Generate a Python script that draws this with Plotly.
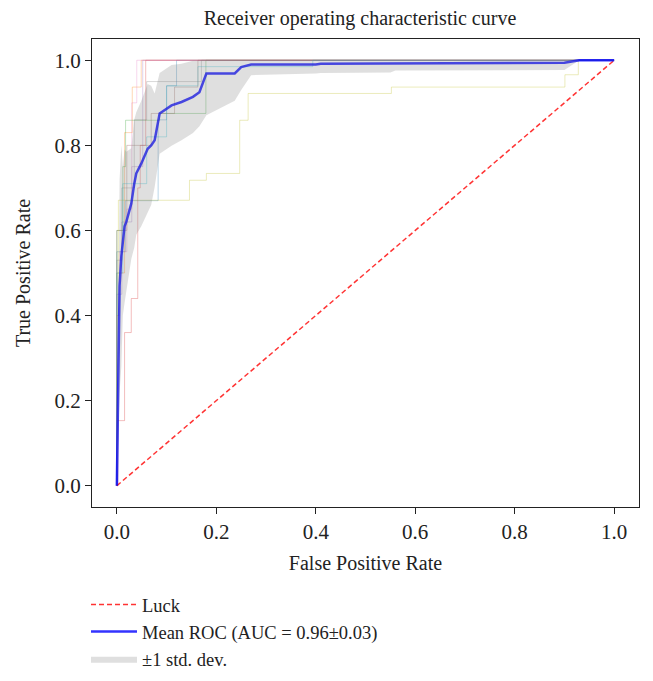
import plotly.graph_objects as go
import numpy as np

# ---------------- data ----------------
mean_fpr = [0, 0.003, 0.0055, 0.009, 0.012, 0.0155, 0.019, 0.029, 0.035, 0.039,
            0.049, 0.062, 0.069, 0.076, 0.086, 0.11, 0.13, 0.153, 0.166, 0.18,
            0.237, 0.25, 0.27, 0.40, 0.41, 0.55, 0.56, 0.90, 0.93, 1.0]
mean_tpr = [0, 0.28, 0.47, 0.54, 0.575, 0.61, 0.62, 0.663, 0.71, 0.734,
            0.757, 0.792, 0.80, 0.812, 0.875, 0.894, 0.902, 0.914, 0.925, 0.969,
            0.969, 0.984, 0.99, 0.99, 0.992, 0.993, 0.993, 0.994, 1.0, 1.0]
std_tpr = [0, 0.15, 0.25, 0.26, 0.175, 0.18, 0.165, 0.13, 0.15, 0.144,
           0.147, 0.152, 0.14, 0.11, 0.095, 0.095, 0.09, 0.085, 0.08, 0.098,
           0.064, 0.054, 0.025, 0.021, 0.022, 0.022, 0.017, 0.017, 0, 0]

fold_colors = ["#1f77b4", "#ff7f0e", "#2ca02c", "#d62728", "#9467bd",
               "#8c564b", "#e377c2", "#7f7f7f", "#bcbd22", "#17becf"]

fold1_fpr = [0, 0, 0.017, 0.017, 0.083, 0.083, 0.1, 0.1, 0.12, 0.12, 1]
fold1_tpr = [0, 0.55, 0.55, 0.67, 0.67, 0.86, 0.86, 0.94, 0.94, 1, 1]
fold2_fpr = [0, 0, 0.0155, 0.0155, 0.031, 0.031, 0.049, 0.049, 1]
fold2_tpr = [0, 0.5, 0.5, 0.83, 0.83, 0.937, 0.937, 1, 1]
fold3_fpr = [0, 0, 0.012, 0.012, 0.0175, 0.0175, 0.086, 0.086, 0.179, 0.179, 1]
fold3_tpr = [0, 0.6, 0.6, 0.75, 0.75, 0.859, 0.859, 0.875, 0.875, 1, 1]
fold4_fpr = [0, 0.002, 0.002, 0.0155, 0.0155, 0.029, 0.029, 0.042, 0.042, 0.047, 0.047, 0.058, 0.058, 1]
fold4_tpr = [0, 0, 0.153, 0.153, 0.36, 0.36, 0.44, 0.44, 0.70, 0.70, 0.80, 0.80, 1, 1]
fold5_fpr = [0, 0, 0.01, 0.01, 0.03, 0.03, 0.052, 0.052, 1]
fold5_tpr = [0, 0.45, 0.45, 0.62, 0.62, 0.75, 0.75, 1, 1]
fold6_fpr = [0, 0, 0.02, 0.02, 0.069, 0.069, 0.116, 0.116, 0.163, 0.163, 1]
fold6_tpr = [0, 0.6, 0.6, 0.8, 0.8, 0.875, 0.875, 0.937, 0.937, 1, 1]
fold7_fpr = [0, 0, 0.005, 0.005, 0.02, 0.02, 0.03, 0.03, 0.04, 0.04, 1]
fold7_tpr = [0, 0.4, 0.4, 0.55, 0.55, 0.65, 0.65, 0.9, 0.9, 1, 1]
fold8_fpr = [0, 0, 0.01, 0.01, 0.035, 0.035, 0.06, 0.06, 0.17, 0.17, 1]
fold8_tpr = [0, 0.53, 0.53, 0.7, 0.7, 0.86, 0.86, 0.95, 0.95, 1, 1]
fold9_fpr = [0, 0, 0.003, 0.003, 0.146, 0.146, 0.18, 0.18, 0.247, 0.247, 0.264, 0.264,
             0.552, 0.552, 0.901, 0.901, 0.928, 0.928, 1]
fold9_tpr = [0, 0.4, 0.4, 0.671, 0.671, 0.718, 0.718, 0.734, 0.734, 0.859, 0.859, 0.922,
             0.922, 0.937, 0.937, 0.966, 0.966, 1, 1]
fold10_fpr = [0, 0, 0.012, 0.012, 0.06, 0.06, 0.1, 0.1, 0.163, 0.163, 0.394, 0.394, 1]
fold10_tpr = [0, 0.5, 0.5, 0.71, 0.71, 0.82, 0.82, 0.94, 0.94, 0.985, 0.985, 1, 1]

folds_fpr = [fold1_fpr, fold2_fpr, fold3_fpr, fold4_fpr, fold5_fpr,
             fold6_fpr, fold7_fpr, fold8_fpr, fold9_fpr, fold10_fpr]
folds_tpr = [fold1_tpr, fold2_tpr, fold3_tpr, fold4_tpr, fold5_tpr,
             fold6_tpr, fold7_tpr, fold8_tpr, fold9_tpr, fold10_tpr]

luck_x = [0, 1]
luck_y = [0, 1]

x_ticks = [0.0, 0.2, 0.4, 0.6, 0.8, 1.0]
y_ticks = [0.0, 0.2, 0.4, 0.6, 0.8, 1.0]

# ---------------- figure ----------------
def hex_rgba(h, a):
    h = h.lstrip("#")
    return "rgba(%d,%d,%d,%.2f)" % (int(h[0:2], 16), int(h[2:4], 16), int(h[4:6], 16), a)

FONT = "Liberation Serif, Times New Roman, serif"
fig = go.Figure()

for fx, fy, c in zip(folds_fpr, folds_tpr, fold_colors):
    fig.add_trace(go.Scatter(x=fx, y=fy, mode="lines",
                             line=dict(color=hex_rgba(c, 0.3), width=1),
                             showlegend=False, hoverinfo="skip"))

fig.add_trace(go.Scatter(x=luck_x, y=luck_y, mode="lines", name="Luck",
                         line=dict(color="rgba(255,0,0,0.8)", width=1.5, dash="5px,3px")))

fig.add_trace(go.Scatter(x=mean_fpr, y=mean_tpr, mode="lines",
                         name="Mean ROC (AUC = 0.96±0.03)",
                         line=dict(color="rgba(0,0,255,0.8)", width=2.5)))

m = np.array(mean_tpr)
s = np.array(std_tpr)
upper = np.minimum(m + s, 1)
lower = np.maximum(m - s, 0)

fig.add_trace(go.Scatter(x=mean_fpr, y=lower, mode="lines",
                         line=dict(width=0, color="rgba(128,128,128,0)"),
                         showlegend=False, hoverinfo="skip"))
fig.add_trace(go.Scatter(x=mean_fpr, y=upper, mode="lines", fill="tonexty",
                         fillcolor="rgba(128,128,128,0.25)",
                         line=dict(width=0, color="rgba(128,128,128,0)"),
                         name="±1 std. dev."))

axis_common = dict(showgrid=False, zeroline=False, showline=True, mirror=True,
                   linecolor="#222", linewidth=1.2, ticks="outside", ticklen=6,
                   tickcolor="#222", tickformat=".1f",
                   tickfont=dict(family=FONT, size=21, color="#222"))

PL, PR, PT, PB = 92, 639, 39, 507
pw, ph = PR - PL, PB - PT

fig.update_layout(
    width=653, height=681,
    margin=dict(l=PL, r=653 - PR, t=PT, b=681 - PB, autoexpand=False),
    paper_bgcolor="white", plot_bgcolor="white",
    font=dict(family=FONT, size=19, color="#222"),
    title=dict(text="Receiver operating characteristic curve", x=360 / 653, xanchor="center",
               xref="container", y=1 - 18 / 681, yanchor="middle",
               font=dict(family=FONT, size=20, color="#222")),
    xaxis=dict(range=[-0.05, 1.05], tickvals=x_ticks,
               title=dict(text="False Positive Rate", font=dict(family=FONT, size=20, color="#222"),
                          standoff=12),
               **axis_common),
    yaxis=dict(range=[-0.05, 1.05], tickvals=y_ticks,
               title=dict(text="True Positive Rate", font=dict(family=FONT, size=20, color="#222"),
                          standoff=18),
               **axis_common),
    legend=dict(x=(86 - PL) / pw, y=(PB - 586) / ph,
                xanchor="left", yanchor="top", bgcolor="rgba(0,0,0,0)",
                font=dict(family=FONT, size=18.5, color="#222"),
                itemwidth=46, tracegroupgap=0, traceorder="normal"),
    showlegend=True,
)

fig.write_html("out.html", config={"displayModeBar": False},
               post_script="document.body.style.margin='0';document.body.style.padding='0';")
